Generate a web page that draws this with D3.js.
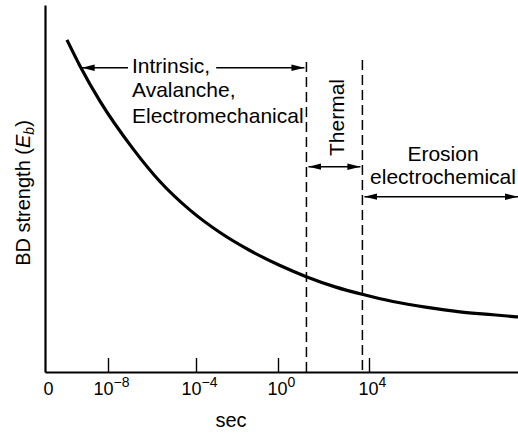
<!DOCTYPE html>
<html><head><meta charset="utf-8">
<script src="https://cdn.jsdelivr.net/npm/d3@7"></script>
<style>
html,body{margin:0;padding:0;background:#fff;}
svg{display:block;font-family:"Liberation Sans", Arial, Helvetica, sans-serif;}
.tick text{font-size:18px;}
</style></head><body>
<svg id="chart" width="518" height="433"></svg>
<script>
// ---- Data (x = log10 of time in seconds, y = breakdown strength, arbitrary units) ----
const logSeconds = [-9.89, -9.29, -8.37, -6.86, -5.64, -4.27, -2.83, -1.37, 0.09, 1.27, 2.51, 3.74, 5.10, 6.67, 8.18, 9.70, 10.85];
const bdStrength = [90.5, 83.4, 73.8, 60.8, 51.9, 44.1, 38.0, 33.1, 29.0, 25.9, 23.2, 21.1, 19.2, 17.6, 16.4, 15.6, 15.0];
const regionBounds = [1.25, 3.71];
const intrinsicStart = -9.21;
const xTickValues = [-10.9, -8, -4, 0, 4];
const xTickBase = ["0", "10", "10", "10", "10"];
const xTickSup = ["", "\u22128", "\u22124", "0", "4"];
const intrinsicLines = ["Intrinsic,", "Avalanche,", "Electromechanical"];
const erosionLines = ["Erosion", "electrochemical"];
const thermalLabel = "Thermal";
const xTitle = "sec";

// ---- Layout ----
const svg = d3.select("#chart");
const x = d3.scaleLinear().domain([-10.9, -8, -4, 0, 4, 10.85]).range([45, 108, 196, 278, 369, 518]);
const y = d3.scaleLinear().domain([0, 100]).range([372, 5]);
const xMin = x.range()[0], xMax = x.range()[x.range().length - 1];

svg.append("rect").attr("width", 518).attr("height", 433).attr("fill", "#fff");

// arrow marker
const defs = svg.append("defs");
defs.append("marker").attr("id", "ah")
  .attr("viewBox", "-13 -4 14 8").attr("refX", 0).attr("refY", 0)
  .attr("markerWidth", 14).attr("markerHeight", 8)
  .attr("markerUnits", "userSpaceOnUse").attr("orient", "auto-start-reverse")
  .append("path").attr("d", "M0,0L-13,-3.2L-13,3.2Z").attr("fill", "#000");

// axes
const yAxis = svg.append("g").attr("transform", `translate(${xMin},0)`)
  .call(d3.axisLeft(y).tickValues([]).tickSizeOuter(0));
yAxis.select(".domain").attr("stroke-width", 2.2);

const xAxis = svg.append("g").attr("transform", `translate(0,${y(0)})`)
  .call(d3.axisBottom(x).tickValues(xTickValues).tickSizeInner(-14).tickSizeOuter(0).tickPadding(10.5));
xAxis.attr("font-size", null).attr("font-family", null);
xAxis.select(".domain").attr("stroke-width", 2.2);
xAxis.selectAll(".tick line").attr("stroke-width", 1.4);
xAxis.selectAll(".tick").filter((d, i) => i === 0).select("line").remove();
xAxis.selectAll(".tick text").each(function(d, i) {
  const t = d3.select(this).text(null).attr("fill", "#000").attr("x", 3);
  t.append("tspan").text(xTickBase[i]);
  if (xTickSup[i]) t.append("tspan").style("font-size", "14px").attr("dy", -8).text(xTickSup[i]);
});

// axis titles
svg.append("text").attr("x", 231).attr("y", 427).attr("text-anchor", "middle")
  .style("font-size", "20px").text(xTitle);
const yt = svg.append("text").attr("transform", "translate(30,193) rotate(-90)")
  .attr("text-anchor", "middle").style("font-size", "20px");
yt.append("tspan").text("BD strength (");
yt.append("tspan").attr("font-style", "italic").text("E");
yt.append("tspan").attr("font-style", "italic").style("font-size", "14px").attr("dy", 4).text("b");
yt.append("tspan").attr("dy", -4).text(")");

// dashed region boundaries
const dashTops = [62, 60];
regionBounds.forEach((b, i) => {
  svg.append("line").attr("x1", x(b)).attr("x2", x(b)).attr("y1", dashTops[i]).attr("y2", y(0))
    .attr("stroke", "#000").attr("stroke-width", 1.5).attr("stroke-dasharray", "10,5");
});

// curve
const pts = logSeconds.map((v, i) => [v, bdStrength[i]]);
svg.append("path").datum(pts)
  .attr("d", d3.line().x(d => x(d[0])).y(d => y(d[1])).curve(d3.curveMonotoneX))
  .attr("fill", "none").attr("stroke", "#000").attr("stroke-width", 3.2);

// Intrinsic annotation
const lineY = [73, 97, 123];
let firstText;
intrinsicLines.forEach((s, i) => {
  const t = svg.append("text").attr("x", 132).attr("y", lineY[i]).style("font-size", "21px").text(s);
  if (i === 0) firstText = t;
});
const firstW = firstText.node().getComputedTextLength();
const arrowY1 = 67.7;
svg.append("line").attr("x1", 128).attr("x2", x(intrinsicStart)).attr("y1", arrowY1).attr("y2", arrowY1)
  .attr("stroke", "#000").attr("stroke-width", 1.4).attr("marker-end", "url(#ah)");
svg.append("line").attr("x1", 132 + firstW + 6).attr("x2", x(regionBounds[0]) - 2).attr("y1", arrowY1).attr("y2", arrowY1)
  .attr("stroke", "#000").attr("stroke-width", 1.4).attr("marker-end", "url(#ah)");

// Thermal annotation
svg.append("text").attr("transform", "translate(344,117.5) rotate(-90)")
  .attr("text-anchor", "middle").style("font-size", "21px").text(thermalLabel);
svg.append("line").attr("x1", x(regionBounds[0]) + 2).attr("x2", x(regionBounds[1]) - 2)
  .attr("y1", 166.7).attr("y2", 166.7).attr("stroke", "#000").attr("stroke-width", 1.4)
  .attr("marker-start", "url(#ah)").attr("marker-end", "url(#ah)");

// Erosion annotation
const eY = [161, 183.5];
erosionLines.forEach((s, i) => {
  svg.append("text").attr("x", 443).attr("y", eY[i]).attr("text-anchor", "middle")
    .style("font-size", "21px").text(s);
});
svg.append("line").attr("x1", x(regionBounds[1]) + 2).attr("x2", xMax)
  .attr("y1", 196.7).attr("y2", 196.7).attr("stroke", "#000").attr("stroke-width", 1.4)
  .attr("marker-start", "url(#ah)").attr("marker-end", "url(#ah)");
</script>
</body></html>
